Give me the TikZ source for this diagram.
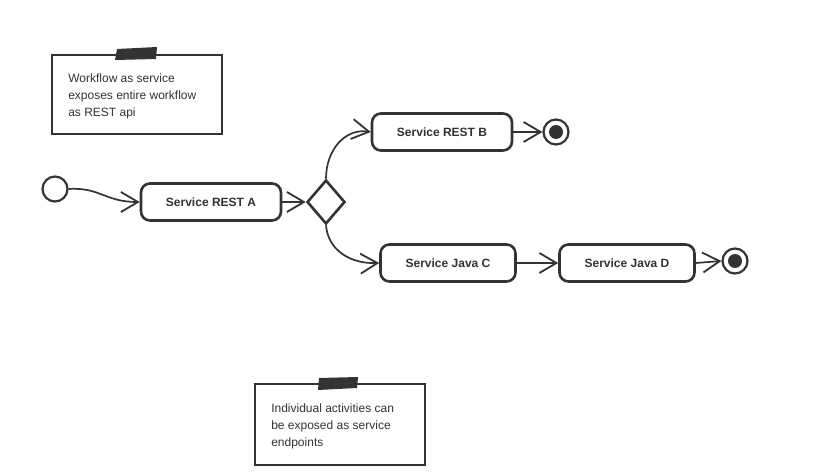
\documentclass[tikz,border=0pt]{standalone}
\usepackage{fontspec}
\setmainfont{Liberation Sans}
\usetikzlibrary{arrows.meta,shapes.geometric}
\definecolor{ink}{HTML}{333333}
\tikzset{
  act/.style={draw=ink,line width=2.6pt,rounded corners=9pt,minimum width=140pt,minimum height=37pt,font=\bfseries\fontsize{12}{14}\selectfont,text=ink},
  flow/.style={draw=ink,line width=1.7pt,-{Straight Barb[length=17pt,width=20pt,line width=1.8pt]}},
  notebox/.style={draw=ink,line width=2.6pt,fill=white,align=left,text=ink,font=\fontsize{12}{17}\selectfont,inner sep=0pt},
  startst/.style={circle,draw=ink,line width=2.2pt,minimum size=25pt,inner sep=0pt},
  endst/.style={circle,draw=ink,line width=2.2pt,minimum size=25pt,inner sep=0pt,path picture={\fill[ink] (path picture bounding box.center) circle (7pt);}},
  decision/.style={diamond,draw=ink,line width=2.6pt,minimum width=38pt,minimum height=44pt,inner sep=0pt,aspect=0.86}
}
\begin{document}
\begin{tikzpicture}[x=1pt,y=-1pt]
\useasboundingbox (0,0) rectangle (813,473);
\fill[white] (0,0) rectangle (813,473);
% note 1
\draw[ink,line width=2.6pt] (52,55) rectangle (222,134);
\fill[ink] (117,49) -- (157,47) -- (156,59) -- (115,60) -- cycle;
\node[notebox,draw=none,anchor=north west] (n1) at (67,73) {Workflow as service\\exposes entire workflow\\as REST api};
% note 2
\draw[ink,line width=2.6pt] (255,384) rectangle (425,465);
\fill[ink] (319,378) -- (358,377) -- (357,388) -- (318,390) -- cycle;
\node[notebox,draw=none,anchor=north west] (n2) at (270,403) {Individual activities can\\be exposed as service\\endpoints};
% nodes
\node[startst] (start) at (55,189) {};
\node[act] (A) at (211,202) {Service REST A};
\node[decision] (dec) at (326,202) {};
\node[act] (B) at (442,132) {Service REST B};
\node[endst] (endB) at (556,132) {};
\node[act,minimum width=135pt] (C) at (448,263) {Service Java C};
\node[act,minimum width=135pt] (D) at (627,263) {Service Java D};
\node[endst] (endD) at (735,261) {};
% connectors
\draw[flow] (start.east) .. controls (100,187) and (105,202) .. (A.west);
\draw[flow] (A.east) -- (dec.west);
\draw[flow] (dec.north) .. controls (326,150) and (345,128) .. (B.west);
\draw[flow] (dec.south) .. controls (328,250) and (350,264) .. (C.west);
\draw[flow] (B.east) -- (endB.west);
\draw[flow] (C.east) -- (D.west);
\draw[flow] (D.east) -- (endD.west);
\end{tikzpicture}
\end{document}
